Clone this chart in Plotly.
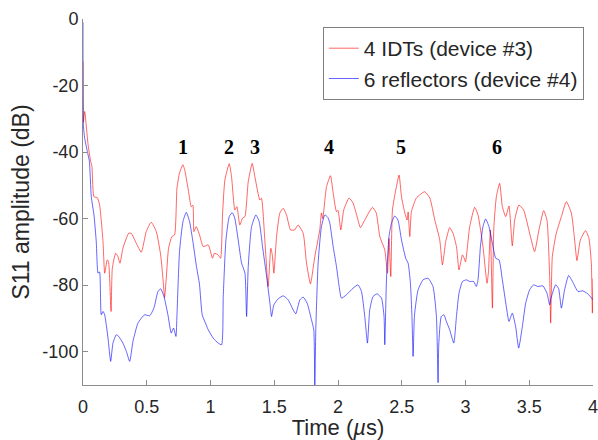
import plotly.graph_objects as go

# S11 time-domain response, 4 IDTs (device #3)
idt_t = [0.000, 0.003, 0.013, 0.040, 0.060, 0.070, 0.086, 0.112, 0.130, 0.157, 0.170, 0.190, 0.200,
         0.220, 0.230, 0.256, 0.274, 0.290, 0.313, 0.358, 0.378, 0.418, 0.457, 0.496, 0.535, 0.575,
         0.609, 0.627, 0.640, 0.653, 0.671, 0.697, 0.718, 0.737, 0.757, 0.784, 0.800, 0.828, 0.849,
         0.862, 0.870, 0.888, 0.914, 0.943, 0.982, 1.016, 1.030, 1.060, 1.079, 1.095, 1.113, 1.147,
         1.165, 1.191, 1.207, 1.230, 1.252, 1.270, 1.296, 1.327, 1.348, 1.387, 1.400, 1.426, 1.452,
         1.473, 1.485, 1.497, 1.518, 1.544, 1.570, 1.596, 1.628, 1.660, 1.687, 1.727, 1.753, 1.784,
         1.818, 1.857, 1.870, 1.880, 1.910, 1.941, 1.962, 1.988, 2.000, 2.022, 2.045, 2.087, 2.118,
         2.150, 2.176, 2.210, 2.270, 2.300, 2.328, 2.367, 2.388, 2.400, 2.414, 2.427, 2.453, 2.479,
         2.498, 2.524, 2.542, 2.550, 2.563, 2.576, 2.615, 2.680, 2.720, 2.759, 2.798, 2.819, 2.845,
         2.876, 2.902, 2.929, 2.949, 2.976, 2.990, 3.000, 3.033, 3.072, 3.098, 3.137, 3.169, 3.180,
         3.195, 3.211, 3.222, 3.242, 3.268, 3.289, 3.315, 3.341, 3.367, 3.386, 3.419, 3.456, 3.503,
         3.542, 3.576, 3.613, 3.639, 3.660, 3.668, 3.681, 3.712, 3.752, 3.791, 3.830, 3.856, 3.874,
         3.901, 3.942, 3.968, 3.987, 3.995, 4.000]
idt_db = [-12.8, -31.0, -27.8, -37.8, -42.8, -44.3, -53.4, -53.7, -55.9, -66.9, -76.4, -72.4, -72.9,
          -87.9, -74.9, -70.4, -71.4, -73.4, -68.9, -64.4, -64.4, -67.4, -70.1, -63.9, -61.1, -63.9,
          -70.9, -77.9, -83.7, -77.9, -68.9, -65.4, -64.9, -50.8, -46.3, -43.8, -45.8, -51.9, -56.4,
          -56.0, -63.9, -62.4, -64.9, -68.4, -67.9, -71.9, -70.4, -70.9, -71.9, -58.3, -48.3, -43.5,
          -47.4, -57.4, -56.4, -61.9, -59.8, -59.4, -48.9, -43.4, -47.4, -54.4, -53.9, -66.4, -80.4,
          -68.9, -71.0, -76.4, -65.4, -58.3, -56.9, -58.9, -63.4, -63.4, -61.9, -64.4, -73.4, -79.6,
          -71.4, -63.4, -58.3, -60.0, -50.4, -47.1, -52.3, -57.9, -57.5, -63.4, -57.4, -53.8, -55.3,
          -59.4, -62.7, -60.4, -56.6, -58.3, -65.4, -69.4, -76.4, -66.0, -77.4, -57.4, -51.4, -46.9,
          -53.4, -58.3, -60.4, -58.0, -65.4, -57.9, -53.8, -51.9, -53.8, -60.4, -66.4, -73.9, -66.9,
          -62.7, -64.4, -68.4, -75.4, -70.9, -71.9, -73.0, -62.4, -56.6, -58.9, -68.4, -79.4, -76.0,
          -63.4, -86.9, -63.0, -53.4, -49.4, -56.4, -59.4, -56.2, -68.2, -60.4, -55.9, -57.4, -64.4,
          -69.9, -63.4, -57.6, -60.4, -77.4, -91.4, -71.4, -64.4, -59.4, -54.9, -58.3, -66.4, -72.6,
          -66.4, -63.6, -65.9, -73.4, -88.4, -78.0]

# S11 time-domain response, 6 reflectors (device #4)
refl_t = [0.000, 0.003, 0.013, 0.034, 0.050, 0.065, 0.086, 0.104, 0.118, 0.130, 0.143, 0.157, 0.170,
          0.196, 0.217, 0.235, 0.261, 0.280, 0.313, 0.340, 0.366, 0.392, 0.431, 0.483, 0.523, 0.556,
          0.588, 0.609, 0.635, 0.666, 0.692, 0.710, 0.729, 0.737, 0.757, 0.784, 0.810, 0.836, 0.862,
          0.888, 0.914, 0.935, 0.966, 0.982, 1.021, 1.060, 1.087, 1.100, 1.121, 1.147, 1.170, 1.190,
          1.217, 1.244, 1.270, 1.283, 1.296, 1.322, 1.356, 1.382, 1.408, 1.440, 1.466, 1.479, 1.497,
          1.531, 1.570, 1.609, 1.648, 1.669, 1.701, 1.727, 1.758, 1.792, 1.810, 1.818, 1.826, 1.844,
          1.870, 1.897, 1.920, 1.936, 1.962, 1.988, 2.009, 2.027, 2.066, 2.118, 2.157, 2.184, 2.210,
          2.231, 2.249, 2.275, 2.307, 2.341, 2.361, 2.367, 2.380, 2.400, 2.419, 2.445, 2.470, 2.498,
          2.531, 2.550, 2.568, 2.580, 2.589, 2.600, 2.628, 2.667, 2.706, 2.745, 2.772, 2.785, 2.790,
          2.810, 2.831, 2.850, 2.876, 2.908, 2.929, 2.949, 2.976, 3.007, 3.033, 3.064, 3.085, 3.098,
          3.117, 3.137, 3.158, 3.184, 3.211, 3.237, 3.263, 3.289, 3.320, 3.341, 3.367, 3.393, 3.417,
          3.446, 3.472, 3.503, 3.534, 3.568, 3.607, 3.639, 3.660, 3.670, 3.707, 3.730, 3.752, 3.777,
          3.809, 3.843, 3.882, 3.920, 3.959, 4.000]
refl_db = [-1.0, -31.8, -35.8, -39.8, -42.8, -53.4, -58.9, -66.9, -76.4, -76.0, -88.9, -87.9, -88.9,
           -95.9, -102.9, -97.4, -94.9, -95.4, -97.4, -99.9, -102.9, -96.9, -91.4, -88.9, -89.2, -86.9,
           -81.9, -81.1, -83.4, -88.9, -94.4, -92.9, -95.4, -89.0, -69.9, -60.9, -58.1, -60.9, -66.9,
           -73.9, -79.9, -88.9, -91.9, -93.4, -95.9, -97.4, -97.9, -83.4, -66.4, -59.4, -58.2, -59.8,
           -66.4, -73.4, -76.4, -89.4, -74.4, -62.4, -58.9, -60.9, -68.4, -77.4, -85.4, -89.4, -85.9,
           -84.1, -83.2, -84.4, -87.4, -88.6, -84.4, -83.6, -85.4, -90.4, -93.4, -110.4, -93.0, -73.4,
           -62.4, -58.9, -59.6, -61.4, -68.4, -74.4, -80.4, -83.9, -82.9, -80.9, -79.9, -81.9, -89.4,
           -97.4, -87.4, -83.4, -82.6, -83.9, -89.4, -97.9, -78.4, -65.4, -61.4, -59.2, -60.4, -66.4,
           -71.9, -73.4, -79.4, -89.4, -101.4, -89.0, -81.4, -78.4, -77.9, -80.4, -89.4, -109.3, -98.0,
           -89.4, -88.9, -90.9, -93.4, -97.4, -89.4, -82.4, -78.9, -78.4, -78.9, -78.9, -80.4, -78.4,
           -68.4, -62.4, -60.1, -62.4, -67.4, -71.9, -72.4, -78.4, -86.4, -90.9, -88.4, -92.4, -98.9,
           -92.4, -85.4, -81.4, -79.9, -80.4, -80.2, -82.4, -85.9, -84.0, -79.9, -81.0, -86.9, -81.4,
           -77.1, -79.2, -81.9, -81.7, -82.6, -84.4]

# Echo numbering above the response peaks
peak_labels = ["1", "2", "3", "4", "5", "6"]
peak_t = [0.784, 1.142, 1.350, 1.930, 2.493, 3.250]
label_db = -38.4

x_ticks = [0, 0.5, 1, 1.5, 2, 2.5, 3, 3.5, 4]
x_tick_text = ["0", "0.5", "1", "1.5", "2", "2.5", "3", "3.5", "4"]
y_ticks = [-100, -80, -60, -40, -20, 0]
y_tick_text = ["-100", "-80", "-60", "-40", "-20", "0"]

SANS = "Liberation Sans, Arial, sans-serif"
AXIS_GREY = "#8c8c8c"
TEXT_DARK = "#262626"

fig = go.Figure()
fig.add_trace(go.Scatter(x=idt_t, y=idt_db, mode="lines", name="4 IDTs (device #3)",
                         line=dict(color="rgba(255,0,0,0.6)", width=1, shape="spline", smoothing=0.5)))
fig.add_trace(go.Scatter(x=refl_t, y=refl_db, mode="lines", name="6 reflectors (device #4)",
                         line=dict(color="rgba(0,0,255,0.6)", width=1, shape="spline", smoothing=0.5)))

for lab, t in zip(peak_labels, peak_t):
    fig.add_annotation(x=t, y=label_db, text=f"<b>{lab}</b>", showarrow=False,
                       font=dict(family="Liberation Serif, Times New Roman, serif", size=20, color="black"))

axis_common = dict(showgrid=False, zeroline=False, showline=True, linecolor=AXIS_GREY, linewidth=1,
                   ticks="inside", ticklen=5, tickcolor=AXIS_GREY, tickwidth=1,
                   tickfont=dict(family=SANS, size=18, color=TEXT_DARK), mirror=False,
                   ticklabeloverflow="allow", automargin=False)

fig.update_xaxes(range=[0, 4], tickvals=x_ticks, ticktext=x_tick_text, ticklabelstandoff=5,
                 title=dict(text="Time (<i>µ</i>s)", font=dict(family=SANS, size=22, color=TEXT_DARK),
                            standoff=16),
                 **axis_common)
fig.update_yaxes(range=[-110, 0], tickvals=y_ticks, ticktext=y_tick_text,
                 title=dict(text="S11 amplitude (dB)", font=dict(family=SANS, size=23, color=TEXT_DARK),
                            standoff=6),
                 **axis_common)

fig.update_layout(
    width=598, height=440,
    margin=dict(l=83, r=5, t=19, b=55),
    plot_bgcolor="white", paper_bgcolor="white",
    legend=dict(x=0.982, y=0.978, xanchor="right", yanchor="top",
                bgcolor="white", bordercolor="#7f7f7f", borderwidth=1,
                font=dict(family=SANS, size=21, color=TEXT_DARK), tracegroupgap=0),
)

fig.write_html("out.html")
